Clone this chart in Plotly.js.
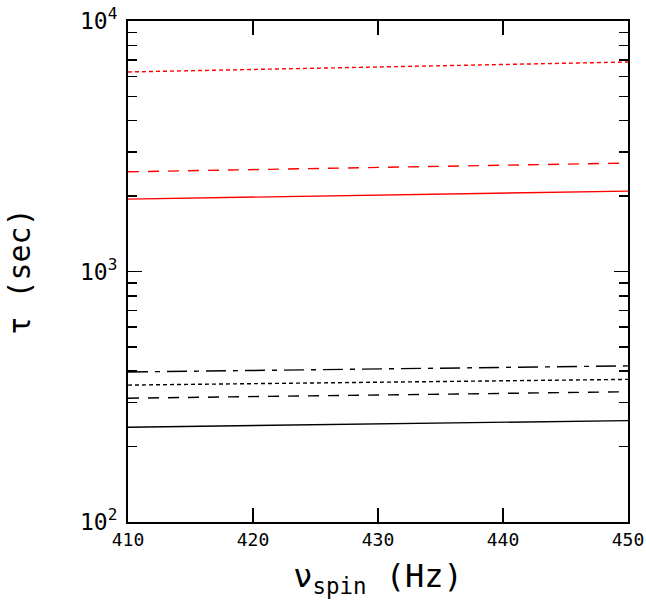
<!DOCTYPE html>
<html>
<head>
<meta charset="utf-8">
<script src="https://cdn.plot.ly/plotly-3.0.1.min.js"></script>
<style>html,body{margin:0;padding:0;background:#fff;}#chart{width:646px;height:616px;}</style>
</head>
<body>
<div id="chart"></div>
<script>
const nuSpin = [410, 420, 430, 440, 450];
const redDotted = [6260, 6400, 6550, 6700, 6860];
const redDashed = [2500, 2550, 2600, 2650, 2710];
const redSolid = [1945, 1980, 2020, 2055, 2094];
const blackDashDot = [397, 403, 409, 414, 420];
const blackDotted = [352, 357, 362, 366, 371];
const blackDashed = [312, 317, 321, 326, 331];
const blackSolid = [239, 243, 247, 250, 254];
const yMajorVals = [100, 1000, 10000];
const yMajorText = ["10<sup>2</sup>", "10<sup>3</sup>", "10<sup>4</sup>"];
const yMinorVals = [200,300,400,500,600,700,800,900,2000,3000,4000,5000,6000,7000,8000,9000];
const xTickVals = [410, 420, 430, 440, 450];

function tr(y, color, dash) {
  return {x: nuSpin, y: y, type: 'scatter', mode: 'lines',
          line: {color: color, width: 1.4, dash: dash}, showlegend: false, hoverinfo: 'skip'};
}
const data = [
  tr(redDotted, '#ff0000', '4px,3px'),
  tr(redDashed, '#ff0000', '11px,9px'),
  tr(redSolid, '#ff0000', 'solid'),
  tr(blackDashDot, '#000000', '20px,7px,5px,7px'),
  tr(blackDotted, '#000000', '4px,3px'),
  tr(blackDashed, '#000000', '11px,9px'),
  tr(blackSolid, '#000000', 'solid')
];
const mono = 'DejaVu Sans Mono';
const layout = {
  width: 646, height: 616,
  margin: {l: 128, r: 18, t: 21, b: 94},
  paper_bgcolor: '#fff', plot_bgcolor: '#fff',
  font: {family: mono, color: '#000'},
  xaxis: {
    range: [410, 450], tickvals: xTickVals, ticktext: xTickVals.map(String),
    ticks: 'inside', ticklen: 14, tickwidth: 1.5, tickcolor: '#000',
    showline: true, linecolor: '#000', linewidth: 2, mirror: 'ticks',
    showgrid: false, zeroline: false,
    tickfont: {family: mono, size: 18, color: '#000'},
    title: {text: 'ν<sub>spin</sub> (Hz)', font: {family: mono, size: 32, color: '#000'}, standoff: 16}
  },
  yaxis: {
    type: 'log', range: [2, 4],
    tickvals: yMajorVals, ticktext: yMajorText,
    ticks: 'inside', ticklen: 14, tickwidth: 1.5, tickcolor: '#000',
    minor: {tickvals: yMinorVals, ticks: 'inside', ticklen: 9, tickwidth: 1.5, tickcolor: '#000', showgrid: false},
    showline: true, linecolor: '#000', linewidth: 2, mirror: 'ticks',
    showgrid: false, zeroline: false,
    ticklabelstandoff: 4,
    tickfont: {family: mono, size: 23, color: '#000'},
    title: {text: 'τ (sec)', font: {family: mono, size: 30, color: '#000'}, standoff: 40}
  }
};
Plotly.newPlot('chart', data, layout, {staticPlot: true});
</script>
</body>
</html>
